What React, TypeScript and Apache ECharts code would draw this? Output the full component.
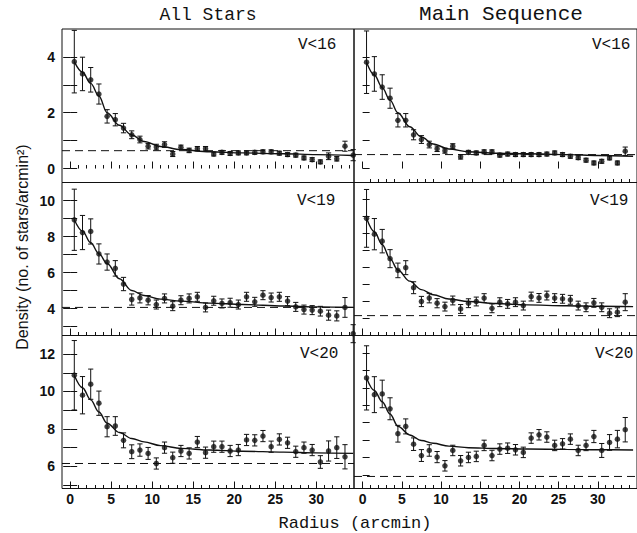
import React, { useEffect, useRef } from "react";
import * as echarts from "echarts";

// ---------- data ----------
const radii = [
  0.5, 1.5, 2.5, 3.5, 4.5, 5.5, 6.5, 7.5, 8.5, 9.5, 10.5, 11.5, 12.5, 13.5, 14.5, 15.5, 16.5, 17.5,
  18.5, 19.5, 20.5, 21.5, 22.5, 23.5, 24.5, 25.5, 26.5, 27.5, 28.5, 29.5, 30.5, 31.5, 32.5, 33.5, 34.5,
];

const allV16 = [3.83, 3.39, 3.18, 2.67, 1.87, 1.75, 1.45, 1.21, 1.04, 0.8, 0.77, 0.86, 0.52, 0.76, 0.65, 0.71, 0.71, 0.52, 0.58, 0.54, 0.56, 0.56, 0.58, 0.6, 0.6, 0.55, 0.5, 0.48, 0.38, 0.32, 0.24, 0.44, 0.35, 0.8, 0.48];
const allV16Err = [1.12, 0.6, 0.44, 0.36, 0.24, 0.22, 0.17, 0.14, 0.12, 0.1, 0.1, 0.1, 0.09, 0.08, 0.08, 0.08, 0.08, 0.07, 0.07, 0.07, 0.07, 0.07, 0.07, 0.07, 0.07, 0.07, 0.07, 0.07, 0.07, 0.07, 0.07, 0.12, 0.08, 0.18, 0.2];

const msV16 = [3.81, 3.39, 2.92, 2.52, 1.73, 1.73, 1.21, 1.04, 0.86, 0.71, 0.64, 0.8, 0.42, 0.58, 0.56, 0.6, 0.6, 0.48, 0.52, 0.5, 0.5, 0.5, 0.5, 0.52, 0.56, 0.5, 0.44, 0.39, 0.3, 0.2, 0.26, 0.38, 0.2, 0.62];
const msV16Err = [1.12, 0.62, 0.44, 0.36, 0.24, 0.24, 0.18, 0.14, 0.12, 0.1, 0.09, 0.09, 0.08, 0.07, 0.07, 0.07, 0.07, 0.07, 0.07, 0.07, 0.07, 0.07, 0.07, 0.07, 0.07, 0.07, 0.07, 0.07, 0.07, 0.07, 0.07, 0.07, 0.07, 0.15];

const allV19 = [8.93, 8.22, 8.28, 7.03, 6.58, 6.23, 5.36, 4.5, 4.59, 4.46, 4.22, 4.56, 4.13, 4.46, 4.56, 4.65, 4.06, 4.43, 4.28, 4.32, 4.22, 4.65, 4.37, 4.74, 4.61, 4.65, 4.41, 4.09, 3.94, 3.91, 3.85, 3.63, 3.59, 4.06, 2.6];
const allV19Err = [1.7, 0.95, 0.7, 0.56, 0.45, 0.43, 0.37, 0.31, 0.28, 0.26, 0.25, 0.25, 0.25, 0.25, 0.25, 0.25, 0.25, 0.25, 0.25, 0.25, 0.25, 0.25, 0.25, 0.25, 0.25, 0.25, 0.25, 0.25, 0.25, 0.25, 0.27, 0.28, 0.28, 0.55, 0.5];

const msV19 = [8.89, 7.96, 7.55, 6.52, 5.83, 5.99, 4.81, 4.0, 4.2, 3.9, 3.7, 4.06, 3.56, 3.9, 4.0, 4.2, 3.6, 3.96, 3.86, 3.96, 3.76, 4.29, 4.21, 4.35, 4.2, 4.16, 4.1, 3.76, 3.66, 3.92, 3.66, 3.31, 3.37, 3.96];
const msV19Err = [1.7, 0.92, 0.69, 0.53, 0.43, 0.41, 0.35, 0.3, 0.28, 0.27, 0.26, 0.26, 0.26, 0.26, 0.26, 0.26, 0.26, 0.26, 0.26, 0.26, 0.26, 0.26, 0.26, 0.26, 0.26, 0.26, 0.26, 0.26, 0.26, 0.26, 0.26, 0.26, 0.26, 0.5];

const allV20 = [10.87, 9.8, 10.39, 9.37, 8.11, 8.15, 7.38, 6.77, 6.86, 6.68, 6.14, 6.99, 6.45, 6.81, 6.68, 7.29, 6.72, 7.04, 7.04, 6.81, 6.86, 7.4, 7.38, 7.61, 7.04, 7.43, 7.25, 6.77, 6.99, 6.86, 6.22, 6.81, 6.99, 6.5];
const allV20Err = [1.86, 1.0, 0.81, 0.65, 0.54, 0.5, 0.4, 0.37, 0.33, 0.32, 0.3, 0.3, 0.3, 0.3, 0.3, 0.3, 0.3, 0.3, 0.3, 0.3, 0.3, 0.3, 0.3, 0.3, 0.3, 0.3, 0.3, 0.3, 0.3, 0.3, 0.34, 0.54, 0.58, 0.65];

const msV20 = [10.57, 9.61, 9.65, 8.8, 7.37, 7.79, 6.77, 6.12, 6.41, 6.03, 5.53, 6.41, 5.82, 6.01, 6.07, 6.7, 6.12, 6.49, 6.54, 6.45, 6.3, 7.12, 7.31, 7.18, 6.7, 6.79, 7.06, 6.41, 6.7, 7.21, 6.41, 6.87, 7.06, 7.6];
const msV20Err = [1.84, 1.03, 0.79, 0.63, 0.48, 0.43, 0.36, 0.34, 0.33, 0.32, 0.3, 0.3, 0.3, 0.3, 0.3, 0.3, 0.3, 0.3, 0.3, 0.3, 0.3, 0.3, 0.3, 0.3, 0.3, 0.3, 0.3, 0.3, 0.3, 0.35, 0.4, 0.45, 0.5, 0.7];

// fitted profiles, read at these radii
const curveR = [0.5, 1.5, 2.5, 3.5, 4.5, 6, 7.5, 9, 11, 13.5, 17, 21, 26, 30, 34.5];
const allV16Curve = [3.83, 3.45, 3.05, 2.6, 2.0, 1.55, 1.2, 0.97, 0.79, 0.68, 0.6, 0.56, 0.53, 0.5, 0.47];
const msV16Curve = [3.81, 3.35, 2.9, 2.45, 2.0, 1.5, 1.13, 0.88, 0.7, 0.6, 0.55, 0.53, 0.5, 0.47, 0.44];
const allV19Curve = [8.93, 8.3, 7.65, 7.05, 6.5, 5.65, 5.0, 4.72, 4.52, 4.41, 4.3, 4.22, 4.14, 4.09, 4.06];
const msV19Curve = [8.89, 8.1, 7.35, 6.52, 5.85, 5.2, 4.7, 4.4, 4.15, 4.0, 3.88, 3.8, 3.75, 3.72, 3.7];
const allV20Curve = [10.87, 10.2, 9.55, 8.9, 8.3, 7.8, 7.48, 7.3, 7.1, 6.95, 6.86, 6.8, 6.75, 6.71, 6.68];
const msV20Curve = [10.57, 9.85, 9.2, 8.5, 7.8, 7.3, 6.98, 6.82, 6.66, 6.57, 6.52, 6.49, 6.47, 6.45, 6.44];

// background levels (dashed)
const backgrounds = [0.64, 0.5, 4.06, 3.17, 6.14, 4.92];

const magLabels = ["V<16", "V<16", "V<19", "V<19", "V<20", "V<20"];
const columnTitles = ["All Stars", "Main Sequence"];
const xTitle = "Radius (arcmin)";
const yTitle = "Density (no. of stars/arcmin²)";

const xMajorTicks = [0, 5, 10, 15, 20, 25, 30];
const xMinorTicks = [1, 2, 3, 4, 6, 7, 8, 9, 11, 12, 13, 14, 16, 17, 18, 19, 21, 22, 23, 24, 26, 27, 28, 29, 31, 32, 33, 34];

const yRanges = [
  [-0.5, 5], [-0.5, 5],
  [2.5, 11], [2, 11],
  [4.8, 13], [4.23, 13],
];
const yTicks = [
  [0, 1, 2, 3, 4], [0, 1, 2, 3, 4],
  [3, 4, 5, 6, 7, 8, 9, 10], [3, 4, 5, 6, 7, 8, 9, 10],
  [5, 6, 7, 8, 9, 10, 11, 12], [5, 6, 7, 8, 9, 10, 11, 12],
];
const yTickLabels = [[0, 2, 4], [], [4, 6, 8, 10], [], [6, 8, 10, 12], []];

const panelValues = [allV16, msV16, allV19, msV19, allV20, msV20];
const panelErrors = [allV16Err, msV16Err, allV19Err, msV19Err, allV20Err, msV20Err];
const panelCurves = [allV16Curve, msV16Curve, allV19Curve, msV19Curve, allV20Curve, msV20Curve];

// ---------- layout ----------
const rowTop = [29, 182.5, 335.5];
const rowH = [153.5, 153, 153];
const colLeft = [62, 354];
const colWidth = [292, 295];
const xRanges = [[-1, 34.6], [-1.1, 35]];
const INK = "#111";

function buildOption() {
  const grid: any[] = [];
  const xAxis: any[] = [];
  const yAxis: any[] = [];
  const series: any[] = [];
  const labelFont = { fontFamily: "Liberation Sans", fontWeight: "bold", fontSize: 14, color: INK };

  for (let i = 0; i < 6; i++) {
    const row = Math.floor(i / 2);
    const col = i % 2;
    grid.push({
      left: colLeft[col], width: colWidth[col], top: rowTop[row], height: rowH[row],
      show: true, borderColor: INK, borderWidth: 1, backgroundColor: "transparent",
    });
    const [xmin, xmax] = xRanges[col];
    const [ymin, ymax] = yRanges[i];
    // major x axis (index 2i)
    xAxis.push({
      type: "value", gridIndex: i, min: xmin, max: xmax, position: "bottom",
      axisLine: { show: false },
      axisTick: { show: true, inside: true, length: 7, customValues: xMajorTicks, lineStyle: { color: INK, width: 1 } },
      axisLabel: { show: row === 2, customValues: xMajorTicks, margin: 3, ...labelFont },
      splitLine: { show: false },
    });
    // minor x axis (index 2i+1)
    xAxis.push({
      type: "value", gridIndex: i, min: xmin, max: xmax, position: "bottom",
      axisLine: { show: false },
      axisTick: { show: true, inside: true, length: 3.5, customValues: xMinorTicks, lineStyle: { color: INK, width: 1 } },
      axisLabel: { show: false },
      splitLine: { show: false },
    });
    yAxis.push({
      type: "value", gridIndex: i, min: ymin, max: ymax, position: "left",
      axisLine: { show: false },
      axisTick: { show: true, inside: true, length: 7, customValues: yTicks[i], lineStyle: { color: INK, width: 1 } },
      axisLabel: { show: yTickLabels[i].length > 0, customValues: yTickLabels[i], margin: 7, ...labelFont },
      splitLine: { show: false },
    });
  }
  // right-side ticks for the left column
  for (let i = 0; i < 6; i += 2) {
    const [ymin, ymax] = yRanges[i];
    yAxis.push({
      type: "value", gridIndex: i, min: ymin, max: ymax, position: "right",
      axisLine: { show: false },
      axisTick: { show: true, inside: true, length: 7, customValues: yTicks[i], lineStyle: { color: INK, width: 1 } },
      axisLabel: { show: false },
      splitLine: { show: false },
    });
  }

  for (let i = 0; i < 6; i++) {
    const col = i % 2;
    const vals = panelValues[i];
    const errs = panelErrors[i];
    const pts = vals.map((v, k) => [radii[k], v, errs[k]]);
    const [xmin, xmax] = xRanges[col];
    series.push({
      type: "custom", xAxisIndex: 2 * i, yAxisIndex: i,
      data: pts, encode: { x: 0, y: 1 }, z: 3,
      renderItem: (params: any, api: any) => {
        const x = api.value(0), y = api.value(1), e = api.value(2);
        const t = api.coord([x, y + e]);
        const b = api.coord([x, y - e]);
        const cap = 2.6;
        const st = { stroke: INK, lineWidth: 1 };
        return {
          type: "group",
          children: [
            { type: "line", shape: { x1: t[0], y1: t[1], x2: b[0], y2: b[1] }, style: st },
            { type: "line", shape: { x1: t[0] - cap, y1: t[1], x2: t[0] + cap, y2: t[1] }, style: st },
            { type: "line", shape: { x1: b[0] - cap, y1: b[1], x2: b[0] + cap, y2: b[1] }, style: st },
          ],
        };
      },
    });
    series.push({
      type: "scatter", xAxisIndex: 2 * i, yAxisIndex: i, z: 4,
      data: pts.map((p) => [p[0], p[1]]), symbol: "circle", symbolSize: 5.5,
      itemStyle: { color: INK }, clip: false,
    });
    series.push({
      type: "line", xAxisIndex: 2 * i, yAxisIndex: i, z: 5,
      data: curveR.map((r, k) => [r, panelCurves[i][k]]),
      smooth: 0.35, smoothMonotone: "x", symbol: "none",
      lineStyle: { color: INK, width: 1.4 },
    });
    series.push({
      type: "line", xAxisIndex: 2 * i, yAxisIndex: i, z: 2,
      data: [[xmin, backgrounds[i]], [xmax, backgrounds[i]]],
      symbol: "none", lineStyle: { color: INK, width: 1, type: [8, 5] },
    });
  }

  const vPos = [
    [298, 45], [592, 45],
    [297, 201], [590, 201],
    [300, 354], [595, 354],
  ];
  const graphic: any[] = [
    { type: "text", x: 208, y: 15, style: { text: columnTitles[0], font: '18px "Liberation Mono"', fill: INK, textAlign: "center", textVerticalAlign: "middle" } },
    { type: "text", x: 501, y: 14.5, style: { text: columnTitles[1], font: '21px "Liberation Mono"', fill: INK, textAlign: "center", textVerticalAlign: "middle" } },
    { type: "text", x: 355, y: 523, style: { text: xTitle, font: '17px "Liberation Mono"', fill: INK, textAlign: "center", textVerticalAlign: "middle" } },
    { type: "text", x: 22, y: 247, rotation: Math.PI / 2, style: { text: yTitle, font: '16px "Liberation Sans"', fill: INK, textAlign: "center", textVerticalAlign: "middle" } },
  ];
  magLabels.forEach((t, i) => {
    graphic.push({
      type: "text", x: vPos[i][0], y: vPos[i][1],
      style: { text: t, font: '16px "Liberation Mono"', fill: INK, textAlign: "left", textVerticalAlign: "middle" },
    });
  });

  return {
    animation: false,
    backgroundColor: "#fff",
    grid, xAxis, yAxis, series, graphic,
  };
}

export default function App() {
  const ref = useRef<HTMLDivElement>(null);
  useEffect(() => {
    const chart = echarts.init(ref.current as HTMLDivElement, null, { renderer: "svg" });
    chart.setOption(buildOption() as any);
    return () => chart.dispose();
  }, []);
  return (
    <div
      ref={ref}
      style={{ position: "fixed", left: 0, top: 0, width: 637, height: 533, background: "#fff", overflow: "hidden" }}
    />
  );
}
